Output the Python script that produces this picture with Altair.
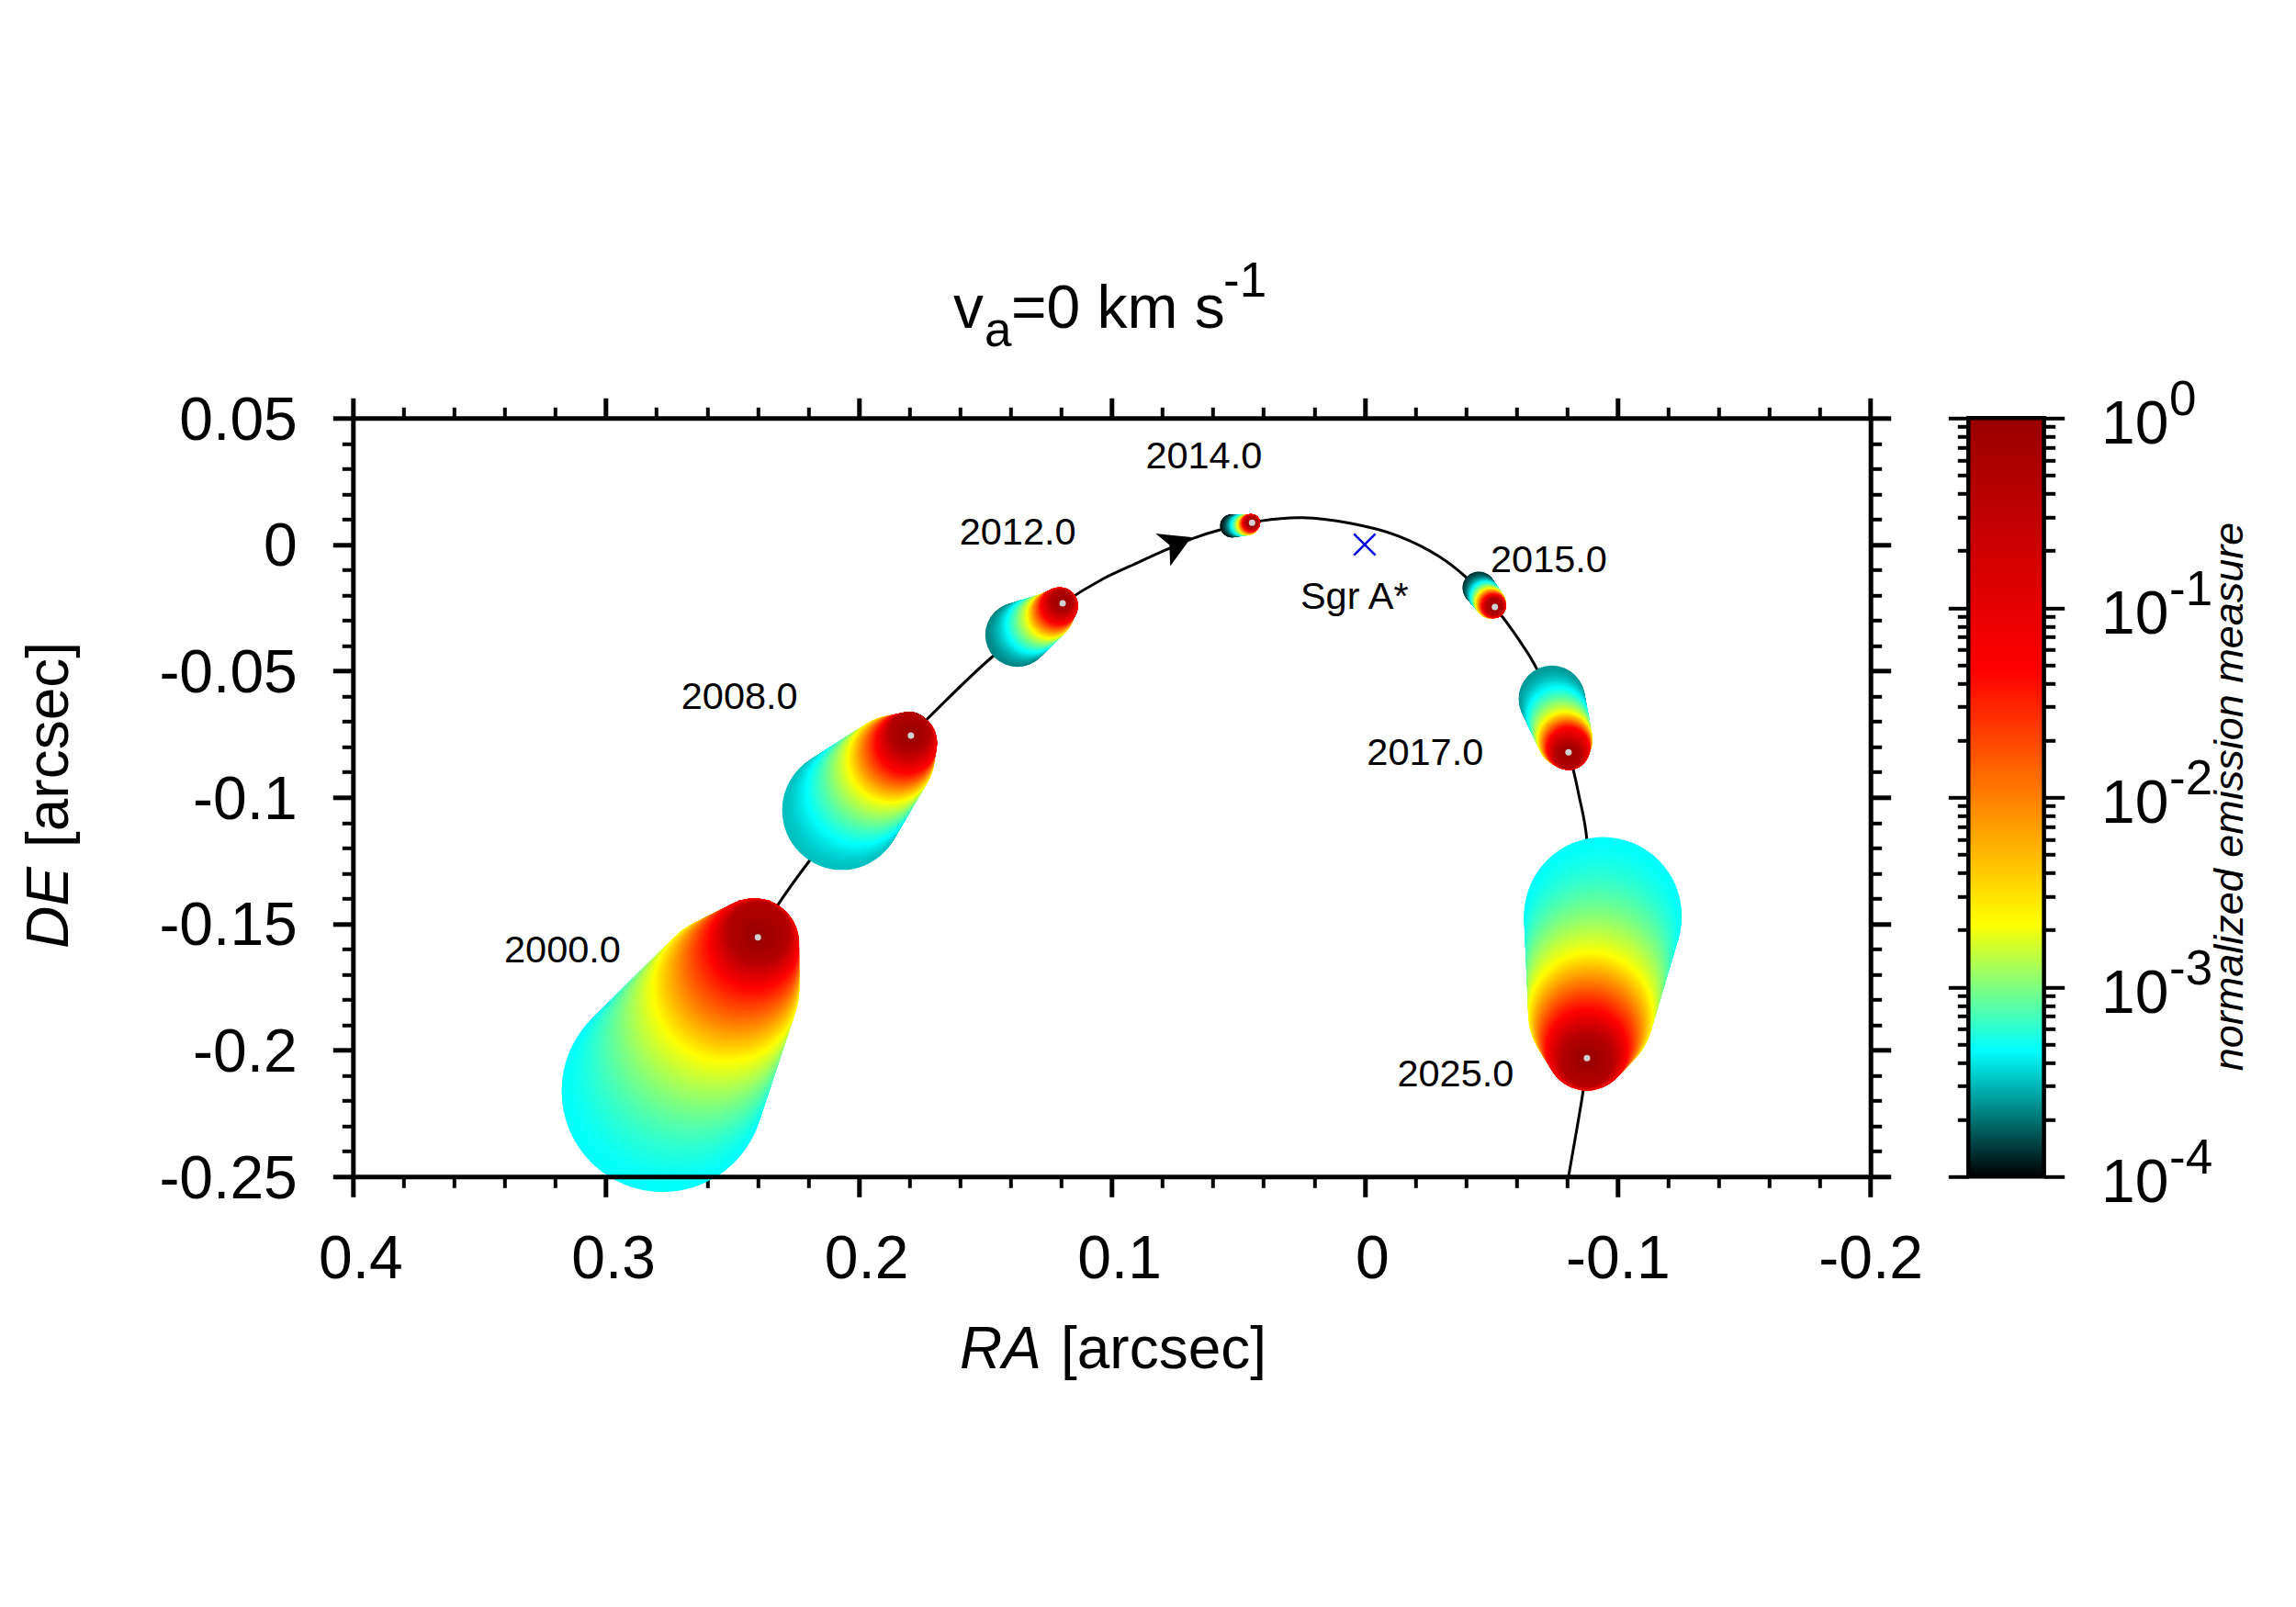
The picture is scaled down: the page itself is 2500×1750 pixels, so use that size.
import numpy as np
import pandas as pd
import altair as alt

PX_PER_UNIT = 2754.0
W, H = 1652.4, 826.0
FONT = "Liberation Sans"

# axes
x_domain = [0.4, -0.2]
y_domain = [-0.25, 0.05]
x_major = [0.4, 0.3, 0.2, 0.1, 0, -0.1, -0.2]
x_minor = [0.38, 0.36, 0.34, 0.32, 0.28, 0.26, 0.24, 0.22, 0.18, 0.16, 0.14, 0.12,
           0.08, 0.06, 0.04, 0.02, -0.02, -0.04, -0.06, -0.08, -0.12, -0.14, -0.16, -0.18]
y_major = [0.05, 0, -0.05, -0.1, -0.15, -0.2, -0.25]
y_minor = [0.04, 0.03, 0.02, 0.01, -0.01, -0.02, -0.03, -0.04, -0.06, -0.07, -0.08, -0.09,
           -0.11, -0.12, -0.13, -0.14, -0.16, -0.17, -0.18, -0.19, -0.21, -0.22, -0.23, -0.24]

# orbit
orbit_x = [0.2399, 0.2327, 0.2198, 0.1794, 0.1731, 0.1473, 0.1194, 0.1040, 0.0933, 0.0679, 0.0575,
           0.0444, 0.0413, 0.0246, 0.0058, -0.0129, -0.0296, -0.0404, -0.0515, -0.0608, -0.0681,
           -0.0806, -0.0848, -0.0879, -0.0879, -0.0865, -0.0838, -0.0806]
orbit_y = [-0.1555, -0.1436, -0.1255, -0.0756, -0.0692, -0.0445, -0.0233, -0.0139, -0.0088, 0.0024, 0.0057,
           0.0086, 0.0093, 0.0106, 0.0084, 0.0035, -0.0048, -0.0132, -0.0249, -0.0374, -0.0493,
           -0.0822, -0.0996, -0.1172, -0.2031, -0.2154, -0.2317, -0.25]

# epoch and Sgr A* labels
label_text = ["2000.0", "2008.0", "2012.0", "2014.0", "2015.0", "2017.0", "2025.0", "Sgr A*"]
label_x = [0.3402, 0.2702, 0.1602, 0.0866, -0.0498, -0.0009, -0.0129, 0.0254]
label_y = [-0.1652, -0.065, 0.0, 0.03, -0.0108, -0.087, -0.2143, -0.0253]

# comet key circles: tail, yellow edge, red edge, core, head position
c_names = ["2000", "2008", "2012", "2014", "2015", "2017", "2025"]
c_tail_log = [-3.33, -3.5, -3.65, -3.95, -3.85, -3.6, -3.33]
c_key_log = [-8 / 3, -4 / 3, -0.35, 0.0]
c_x = [[0.2775, 0.2525, 0.2414, 0.2396, 0.2399],
       [0.2067, 0.1873, 0.1810, 0.1798, 0.1794],
       [0.1373, 0.1244, 0.1206, 0.1198, 0.1194],
       [0.0526, 0.0461, 0.0448, 0.0446, 0.0445],
       [-0.0451, -0.0498, -0.0511, -0.0513, -0.0515],
       [-0.0740, -0.0792, -0.0806, -0.0806, -0.0806],
       [-0.0942, -0.0894, -0.0879, -0.0879, -0.0879]]
c_y = [[-0.2161, -0.1758, -0.1577, -0.1533, -0.1554],
       [-0.1051, -0.0850, -0.0784, -0.0742, -0.0756],
       [-0.0357, -0.0280, -0.0242, -0.0225, -0.0233],
       [0.0074, 0.0078, 0.0086, 0.0086, 0.0086],
       [-0.0171, -0.0232, -0.0244, -0.0245, -0.0247],
       [-0.0610, -0.0771, -0.0808, -0.0835, -0.0822],
       [-0.1469, -0.1859, -0.2000, -0.2042, -0.2031]]
c_r = [[0.0400, 0.0290, 0.0178, 0.0120, 0.0007],
       [0.0236, 0.0171, 0.0120, 0.0080, 0.0005],
       [0.0127, 0.0091, 0.0073, 0.0045, 0.0004],
       [0.0046, 0.0041, 0.0035, 0.0025, 0.0003],
       [0.0064, 0.0060, 0.0047, 0.0033, 0.0003],
       [0.0131, 0.0109, 0.0084, 0.0052, 0.0004],
       [0.0312, 0.0247, 0.0160, 0.0102, 0.0005]]

# colour scale
cb_log = [-4, -10 / 3, -8 / 3, -4 / 3, 0]
cb_col = ["#000000", "#00ffff", "#ffff00", "#ff0000", "#990000"]
cb_edges_x = [-0.2387, -0.2686]
cb_major = [1, 0.1, 0.01, 0.001, 0.0001]
cb_minor = [m * 10.0 ** e for e in (-1, -2, -3, -4) for m in (2, 3, 4, 5, 6, 7, 8, 9)]
cb_exp = ["0", "-1", "-2", "-3", "-4"]

xs = alt.Scale(domain=x_domain, nice=False, zero=False)
ys = alt.Scale(domain=y_domain, nice=False, zero=False)
ls = alt.Scale(type="log", domain=[1e-4, 1], nice=False)
color_scale = alt.Scale(type="log", domain=[10.0 ** v for v in cb_log], range=cb_col, interpolate="rgb")

MAJOR_W, MINOR_W = 5, 4


def axis_layer(channel, scale, values, **kw):
    base = dict(values=values, title=None, grid=False, tickColor="black", domainColor="black",
                labels=False, domain=False, ticks=True, tickWidth=MAJOR_W)
    base.update(kw)
    enc = alt.X if channel == "x" else alt.Y
    df = pd.DataFrame({"v": [values[0]]})
    return alt.Chart(df).mark_point(opacity=0).encode(
        **{channel: enc("v:Q", scale=scale, axis=alt.Axis(**base))})


label_kw = dict(labels=True, labelFont=FONT, labelFontSize=66, labelColor="black", labelOverlap=False,
                labelFlush=False, labelBound=False, labelExpr="'' + datum.value")

layers = [
    axis_layer("x", xs, x_major, orient="bottom", tickSize=22, labelPadding=36,
               labelOffset=alt.expr("datum.value >= 0 ? 8 : 0"), **label_kw),
    axis_layer("x", xs, x_minor, orient="bottom", tickSize=12, tickWidth=MINOR_W),
    axis_layer("x", xs, x_major, orient="top", tickSize=22, domain=True, domainWidth=5),
    axis_layer("x", xs, x_minor, orient="top", tickSize=12, tickWidth=MINOR_W),
    axis_layer("y", ys, y_major, orient="left", tickSize=22, labelPadding=39, labelOffset=3, domain=True,
               domainWidth=5, **label_kw),
    axis_layer("y", ys, y_minor, orient="left", tickSize=12, tickWidth=MINOR_W),
    axis_layer("y", ys, y_major, orient="right", tickSize=22, domain=True, domainWidth=5),
    axis_layer("y", ys, y_minor, orient="right", tickSize=12, tickWidth=MINOR_W),
]

# orbit
orbit_df = pd.DataFrame({"x": orbit_x, "y": orbit_y, "i": range(len(orbit_x))})
layers.append(alt.Chart(orbit_df).mark_line(color="black", strokeWidth=3, interpolate="catmull-rom").encode(
    x=alt.X("x:Q", scale=xs, axis=None), y=alt.Y("y:Q", scale=ys, axis=None), order="i:Q"))

# comets: circles painted from tail to head
rows = []
for tail, kx, ky, kr in zip(c_tail_log, c_x, c_y, c_r):
    logs = [tail] + c_key_log
    for s in range(4):
        for t in np.linspace(0, 1, 70):
            r = kr[s] + t * (kr[s + 1] - kr[s])
            tc = t ** 1.6 if s == 0 else t
            rows.append({"x": kx[s] + t * (kx[s + 1] - kx[s]),
                         "y": ky[s] + t * (ky[s + 1] - ky[s]),
                         "s": (2 * r * PX_PER_UNIT) ** 2,
                         "e": 10.0 ** (logs[s] + tc * (logs[s + 1] - logs[s]))})
comet_df = pd.DataFrame(rows)
layers.append(alt.Chart(comet_df).mark_circle(opacity=1, strokeWidth=0).encode(
    x=alt.X("x:Q", scale=xs, axis=None), y=alt.Y("y:Q", scale=ys, axis=None),
    size=alt.Size("s:Q", scale=None, legend=None),
    color=alt.Color("e:Q", scale=color_scale, legend=None)))

# head points
head_df = pd.DataFrame({"x": [k[-1] for k in c_x], "y": [k[-1] for k in c_y]})
layers.append(alt.Chart(head_df).mark_circle(opacity=1, size=49, color="#d0d0d0").encode(
    x=alt.X("x:Q", scale=xs, axis=None), y=alt.Y("y:Q", scale=ys, axis=None)))

# bottom frame line runs over the comet
layers.append(axis_layer("x", xs, x_major, orient="bottom", ticks=False, domain=True, domainWidth=5, zindex=1))

# Sgr A* cross and direction arrow
layers.append(alt.Chart(pd.DataFrame({"x": [0], "y": [0]})).mark_point(
    shape="M-1,-1L1,1M-1,1L1,-1", size=548, color="#0000e0", strokeWidth=2.5, opacity=1, filled=False).encode(
    x=alt.X("x:Q", scale=xs, axis=None), y=alt.Y("y:Q", scale=ys, axis=None)))
layers.append(alt.Chart(pd.DataFrame({"x": [0.0685], "y": [0.0029]})).mark_point(
    shape="M0,0L-0.975,-0.1L-0.6,0.21L-0.575,0.79Z", size=6400, color="black", fill="black", filled=True,
    strokeWidth=0, opacity=1).encode(
    x=alt.X("x:Q", scale=xs, axis=None), y=alt.Y("y:Q", scale=ys, axis=None)))

# epoch labels
lab_df = pd.DataFrame({"t": label_text, "x": label_x, "y": label_y})
layers.append(alt.Chart(lab_df).mark_text(align="left", baseline="alphabetic", font=FONT, fontSize=41.5,
                                          color="black").encode(
    x=alt.X("x:Q", scale=xs, axis=None), y=alt.Y("y:Q", scale=ys, axis=None), text="t:N"))


def text_px(txt, px, py, size, **kw):
    """Static text placed by page pixel."""
    return alt.Chart(pd.DataFrame({"a": [0]})).mark_text(
        text=txt, font=FONT, fontSize=size, color="black", align=kw.pop("align", "left"),
        baseline="alphabetic", **kw).encode(x=alt.value(px - 384.3), y=alt.value(py - 455.3))


# title and axis titles
layers += [
    text_px("v", 1038, 356.7, 66),
    text_px("a", 1072, 376.7, 53),
    text_px("=0 km s", 1101, 356.7, 66),
    text_px("-1", 1332, 323, 53),
    text_px("RA", 1045, 1490, 64, fontStyle="italic"),
    text_px("[arcsec]", 1155, 1490, 64),
    text_px("DE", 74, 1033, 64, fontStyle="italic", angle=270),
    text_px("[arcsec]", 74, 923, 64, angle=270),
]

# colour bar
OFF_L = -(W + 106.6)
OFF_R = 189.0
stops = [alt.GradientStop(offset=(cb_log[-1] - v) / 4, color=c) for v, c in zip(cb_log[::-1], cb_col[::-1])]
bar_df = pd.DataFrame({"x": [cb_edges_x[0]], "x2": [cb_edges_x[1]], "y": [1e-4], "y2": [1.0]})
layers.append(alt.Chart(bar_df).mark_rect(
    color=alt.LinearGradient(gradient="linear", stops=stops, x1=0, x2=0, y1=0, y2=1),
    stroke="black", strokeWidth=4.5).encode(
    x=alt.X("x:Q", scale=xs, axis=None), x2="x2:Q",
    y=alt.Y("y:Q", scale=ls, axis=None), y2="y2:Q"))
layers += [
    axis_layer("y", ls, cb_major, orient="left", offset=OFF_L, tickSize=22, tickWidth=4),
    axis_layer("y", ls, cb_minor, orient="left", offset=OFF_L, tickSize=12, tickWidth=MINOR_W),
    axis_layer("y", ls, cb_major, orient="right", offset=OFF_R, tickSize=22, tickWidth=4),
    axis_layer("y", ls, cb_minor, orient="right", offset=OFF_R, tickSize=12, tickWidth=MINOR_W),
]
cb_df = pd.DataFrame({"v": cb_major, "exp": cb_exp})
layers.append(alt.Chart(cb_df).mark_text(text="10", font=FONT, fontSize=66, color="black", align="left",
                                         baseline="alphabetic", dy=28).encode(
    x=alt.value(2288 - 384.3), y=alt.Y("v:Q", scale=ls, axis=None)))
layers.append(alt.Chart(cb_df).mark_text(font=FONT, fontSize=53, color="black", align="left",
                                         baseline="alphabetic", dy=-3).encode(
    x=alt.value(2362 - 384.3), y=alt.Y("v:Q", scale=ls, axis=None), text="exp:N"))
layers.append(text_px("normalized emission measure", 2442, 867.5, 45, fontStyle="italic", angle=270,
                      align="center"))

chart = alt.layer(*layers).resolve_scale(x="independent", y="independent").properties(
    width=W, height=H,
    autosize=alt.AutoSizeParams(type="none"),
    padding={"left": 376.3, "top": 447.3, "right": 455, "bottom": 460},
).configure_view(stroke=None).configure(font=FONT, background="white")

chart.save("out.html", embed_options={"renderer": "svg", "actions": False})
